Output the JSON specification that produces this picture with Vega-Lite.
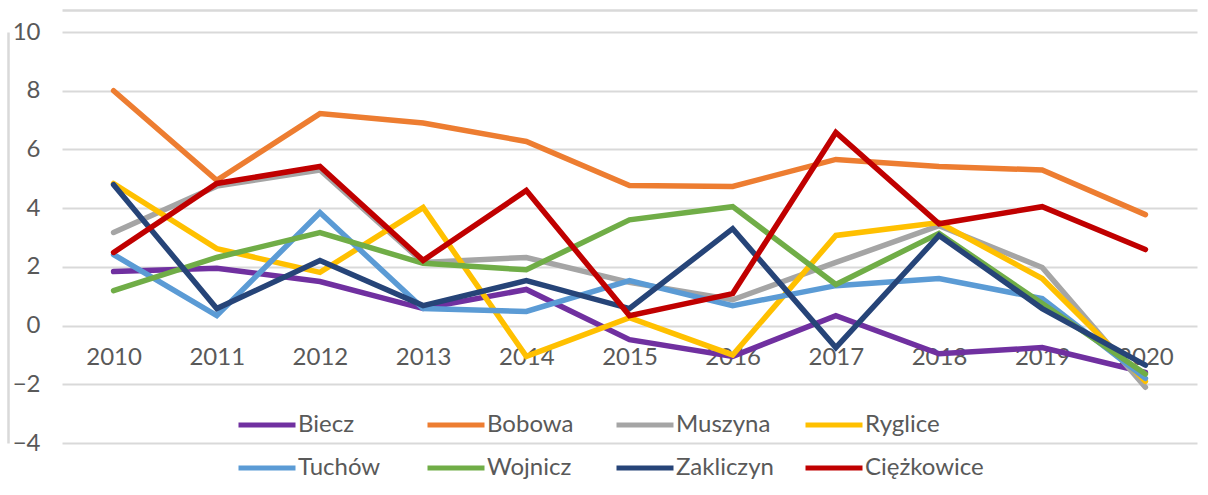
{
  "$schema": "https://vega.github.io/schema/vega-lite/v6.json",
  "width": 1135,
  "height": 411,
  "autosize": "none",
  "padding": {"left": 62, "top": 32, "right": 11, "bottom": 52},
  "background": "white",
  "config": {"view": {"stroke": null}, "font": "Lato"},
  "data": {"values": [
    {"year":"2010","g":"Biecz","v":1.84},{"year":"2011","g":"Biecz","v":1.95},{"year":"2012","g":"Biecz","v":1.5},{"year":"2013","g":"Biecz","v":0.58},{"year":"2014","g":"Biecz","v":1.23},{"year":"2015","g":"Biecz","v":-0.48},{"year":"2016","g":"Biecz","v":-1.05},{"year":"2017","g":"Biecz","v":0.34},{"year":"2018","g":"Biecz","v":-0.96},{"year":"2019","g":"Biecz","v":-0.75},{"year":"2020","g":"Biecz","v":-1.6},
    {"year":"2010","g":"Bobowa","v":8.0},{"year":"2011","g":"Bobowa","v":4.95},{"year":"2012","g":"Bobowa","v":7.22},{"year":"2013","g":"Bobowa","v":6.9},{"year":"2014","g":"Bobowa","v":6.27},{"year":"2015","g":"Bobowa","v":4.77},{"year":"2016","g":"Bobowa","v":4.74},{"year":"2017","g":"Bobowa","v":5.66},{"year":"2018","g":"Bobowa","v":5.42},{"year":"2019","g":"Bobowa","v":5.3},{"year":"2020","g":"Bobowa","v":3.78},
    {"year":"2010","g":"Muszyna","v":3.17},{"year":"2011","g":"Muszyna","v":4.75},{"year":"2012","g":"Muszyna","v":5.3},{"year":"2013","g":"Muszyna","v":2.15},{"year":"2014","g":"Muszyna","v":2.32},{"year":"2015","g":"Muszyna","v":1.47},{"year":"2016","g":"Muszyna","v":0.88},{"year":"2017","g":"Muszyna","v":2.15},{"year":"2018","g":"Muszyna","v":3.4},{"year":"2019","g":"Muszyna","v":1.98},{"year":"2020","g":"Muszyna","v":-2.1},
    {"year":"2010","g":"Ryglice","v":4.84},{"year":"2011","g":"Ryglice","v":2.62},{"year":"2012","g":"Ryglice","v":1.81},{"year":"2013","g":"Ryglice","v":4.02},{"year":"2014","g":"Ryglice","v":-1.05},{"year":"2015","g":"Ryglice","v":0.27},{"year":"2016","g":"Ryglice","v":-1.0},{"year":"2017","g":"Ryglice","v":3.07},{"year":"2018","g":"Ryglice","v":3.51},{"year":"2019","g":"Ryglice","v":1.6},{"year":"2020","g":"Ryglice","v":-1.9},
    {"year":"2010","g":"Tuchów","v":2.42},{"year":"2011","g":"Tuchów","v":0.34},{"year":"2012","g":"Tuchów","v":3.85},{"year":"2013","g":"Tuchów","v":0.58},{"year":"2014","g":"Tuchów","v":0.48},{"year":"2015","g":"Tuchów","v":1.53},{"year":"2016","g":"Tuchów","v":0.68},{"year":"2017","g":"Tuchów","v":1.36},{"year":"2018","g":"Tuchów","v":1.6},{"year":"2019","g":"Tuchów","v":0.92},{"year":"2020","g":"Tuchów","v":-1.8},
    {"year":"2010","g":"Wojnicz","v":1.19},{"year":"2011","g":"Wojnicz","v":2.32},{"year":"2012","g":"Wojnicz","v":3.17},{"year":"2013","g":"Wojnicz","v":2.12},{"year":"2014","g":"Wojnicz","v":1.9},{"year":"2015","g":"Wojnicz","v":3.6},{"year":"2016","g":"Wojnicz","v":4.05},{"year":"2017","g":"Wojnicz","v":1.4},{"year":"2018","g":"Wojnicz","v":3.14},{"year":"2019","g":"Wojnicz","v":0.75},{"year":"2020","g":"Wojnicz","v":-1.65},
    {"year":"2010","g":"Zakliczyn","v":4.8},{"year":"2011","g":"Zakliczyn","v":0.58},{"year":"2012","g":"Zakliczyn","v":2.22},{"year":"2013","g":"Zakliczyn","v":0.68},{"year":"2014","g":"Zakliczyn","v":1.53},{"year":"2015","g":"Zakliczyn","v":0.58},{"year":"2016","g":"Zakliczyn","v":3.3},{"year":"2017","g":"Zakliczyn","v":-0.75},{"year":"2018","g":"Zakliczyn","v":3.07},{"year":"2019","g":"Zakliczyn","v":0.58},{"year":"2020","g":"Zakliczyn","v":-1.35},
    {"year":"2010","g":"Ciężkowice","v":2.49},{"year":"2011","g":"Ciężkowice","v":4.84},{"year":"2012","g":"Ciężkowice","v":5.42},{"year":"2013","g":"Ciężkowice","v":2.22},{"year":"2014","g":"Ciężkowice","v":4.6},{"year":"2015","g":"Ciężkowice","v":0.34},{"year":"2016","g":"Ciężkowice","v":1.09},{"year":"2017","g":"Ciężkowice","v":6.58},{"year":"2018","g":"Ciężkowice","v":3.47},{"year":"2019","g":"Ciężkowice","v":4.05},{"year":"2020","g":"Ciężkowice","v":2.59}
  ]},
  "layer": [
    {
      "mark": {"type": "line", "strokeWidth": 5.5, "strokeCap": "round", "strokeJoin": "miter"},
      "encoding": {
        "x": {"field": "year", "type": "ordinal", "scale": {"type": "point", "padding": 0.5},
          "axis": {"title": null, "labelAngle": 0, "offset": -118, "domain": false, "ticks": false, "tickSize": 0, "labelPadding": 20, "labelFontSize": 24, "labelColor": "#595959", "labelFont": "Lato", "grid": false, "zindex": 0}},
        "y": {"field": "v", "type": "quantitative", "scale": {"domain": [-4, 10], "nice": false, "zero": false},
          "axis": {"title": null, "values": [-4, -2, 0, 2, 4, 6, 8, 10], "domain": false, "ticks": false, "tickSize": 0, "labelPadding": 22, "labelFontSize": 24, "labelColor": "#595959", "labelFont": "Lato", "gridColor": "#d9d9d9", "gridWidth": 2, "zindex": 0}},
        "color": {"field": "g", "type": "nominal",
          "scale": {"domain": ["Biecz","Bobowa","Muszyna","Ryglice","Tuchów","Wojnicz","Zakliczyn","Ciężkowice"],
            "range": ["#7030A0","#ED7D31","#A5A5A5","#FFC000","#5B9BD5","#70AD47","#264478","#C00000"]},
          "legend": {"title": null, "orient": "none", "legendX": 174, "legendY": 362, "direction": "horizontal", "columns": 4, "gridAlign": "all", "columnPadding": 0, "rowPadding": -11,
            "symbolType": "stroke", "symbolSize": 3249, "symbolStrokeWidth": 5, "labelOffset": 0, "labelFontSize": 24, "labelColor": "#595959", "labelFont": "Lato", "symbolOffset": 0}}
      }
    },
    {
      "mark": {"type": "rule", "opacity": 0},
      "encoding": {
        "x": {"datum": "2010", "type": "ordinal",
          "axis": {"orient": "top", "offset": 22, "title": null, "labels": false, "ticks": false, "grid": false, "domain": true, "domainColor": "#d9d9d9", "domainWidth": 2.5}},
        "y": {"datum": 0, "type": "quantitative",
          "axis": {"orient": "left", "offset": 54, "title": null, "labels": false, "ticks": false, "grid": false, "domain": true, "domainColor": "#d9d9d9", "domainWidth": 2.5}}
      }
    }
  ],
  "resolve": {"axis": {"x": "independent", "y": "independent"}}
}
